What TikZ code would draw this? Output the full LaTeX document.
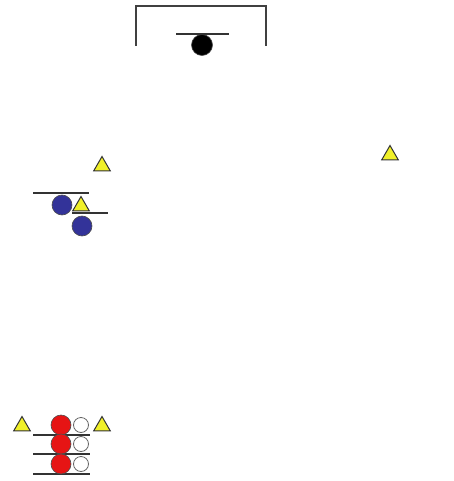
\documentclass[tikz,border=0pt]{standalone}
\usepackage{tikz}
\usetikzlibrary{shapes.geometric}

\definecolor{navyball}{RGB}{51,51,153}
\definecolor{redball}{RGB}{230,20,20}
\definecolor{conecol}{RGB}{240,240,40}

\begin{document}
\begin{tikzpicture}[
  x=1pt, y=-1pt,
  every node/.style={inner sep=0pt},
  wall/.style={draw=black!75, line width=1.6pt},
  row/.style={draw=black!80, line width=1.2pt},
  ballbox/.style={circle, draw=black!70, line width=0.6pt, fill=#1, minimum size=20pt},
  spare/.style={circle, draw=black!60, line width=0.8pt, fill=white, minimum size=15pt},
  cone/.style={regular polygon, regular polygon sides=3, draw=black!80, line width=1pt, fill=conecol, minimum size=19pt}
]
  \useasboundingbox (0,0) rectangle (454,481);

  % Goal at the top
  \draw[wall] (136,46) -- (136,6) -- (266,6) -- (266,46);
  \node[ballbox=black, minimum size=21pt] (goalball) at (202,45) {};
  \draw[row] (176,34) -- (229,34);

  % Cones
  \node[cone] (cA) at (102,166) {};
  \node[cone] (cB) at (390,155) {};

  % Blue pair
  \draw[row] (33,193) -- (89,193);
  \node[ballbox=navyball] (b1) at (62,205) {};
  \node[cone] (cC) at (81,206) {};
  \draw[row] (72,213) -- (108,213);
  \node[ballbox=navyball] (b2) at (82,226) {};

  % Red row with spare balls
  \node[cone] (cD) at (22,426) {};
  \node[cone] (cE) at (102,426) {};
  \foreach \y/\n in {425/1, 444/2, 464/3}{
    \draw[row] (33,\y+10) -- (90,\y+10);
    \node[spare] (w\n) at (81,\y) {};
    \node[ballbox=redball] (r\n) at (61,\y) {};
  }

\end{tikzpicture}
\end{document}
